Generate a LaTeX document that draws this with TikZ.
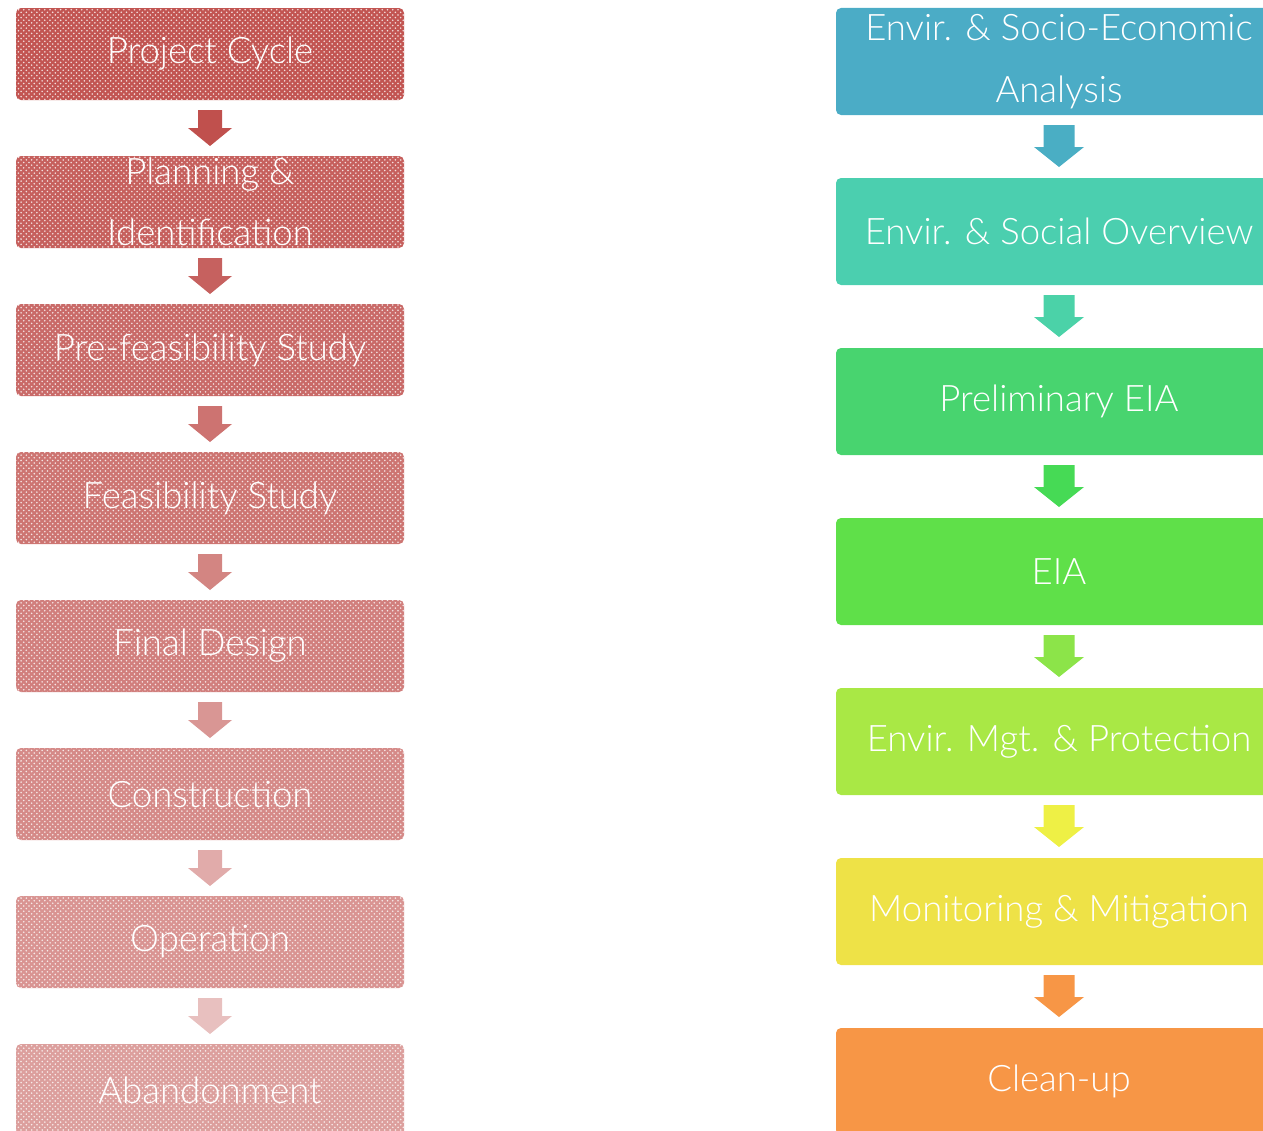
\documentclass[tikz,border=0pt]{standalone}
\usepackage{fontspec}
\setmainfont{Lato}[UprightFont=* Light]
\usepackage{xcolor}
\usetikzlibrary{calc,patterns,positioning}
\definecolor{redbase}{HTML}{C0504D}
\definecolor{rc1}{HTML}{4BACC6}
\definecolor{rc2}{HTML}{4BCFAF}
\definecolor{rc3}{HTML}{48D46F}
\definecolor{rc4}{HTML}{5FE049}
\definecolor{rc5}{HTML}{A9E845}
\definecolor{rc6}{HTML}{EEE247}
\definecolor{rc7}{HTML}{F79646}
\definecolor{ra1}{HTML}{4AAEC4}
\definecolor{ra2}{HTML}{4BD2A8}
\definecolor{ra3}{HTML}{46DA55}
\definecolor{ra4}{HTML}{8CE449}
\definecolor{ra5}{HTML}{EEF045}
\definecolor{ra6}{HTML}{F79646}
\tikzset{%
	lbox/.style = {rectangle, rounded corners=0.1cm, minimum width=7.76cm, minimum height=1.84cm, inner sep=0pt, outer sep=0pt},
	rbox/.style = {rectangle, rounded corners=0.1cm, minimum width=8.92cm, minimum height=2.14cm, inner sep=0pt, outer sep=0pt},
	dotted fill/.style = {preaction={fill=#1}, pattern=crosshatch dots, pattern color=white!80!#1},
	txt/.style  = {text=white, align=center, inner sep=0pt, font=\fontsize{20.8}{35}\selectfont},
}
\begin{document}
\begin{tikzpicture}
		\useasboundingbox (0,0) rectangle (25.26,-22.6);
		\clip (0,0) rectangle (25.26,-22.6);
		% project cycle
		\node[lbox, dotted fill=redbase!97!white] (l1) at (4.2,-1.08) {};
		\node[lbox, dotted fill=redbase!91!white, below=1.12cm of l1] (l2) {};
		\node[lbox, dotted fill=redbase!85!white, below=1.12cm of l2] (l3) {};
		\node[lbox, dotted fill=redbase!79!white, below=1.12cm of l3] (l4) {};
		\node[lbox, dotted fill=redbase!73!white, below=1.12cm of l4] (l5) {};
		\node[lbox, dotted fill=redbase!67!white, below=1.12cm of l5] (l6) {};
		\node[lbox, dotted fill=redbase!61!white, below=1.12cm of l6] (l7) {};
		\node[lbox, dotted fill=redbase!55!white, below=1.12cm of l7] (l8) {};
		\node[txt] (l1t) at (l1) {Project Cycle};
		\node[txt] (l2t) at (l2) {Planning \&\\Identification};
		\node[txt] (l3t) at (l3) {Pre-feasibility Study};
		\node[txt] (l4t) at (l4) {Feasibility Study};
		\node[txt] (l5t) at (l5) {Final Design};
		\node[txt] (l6t) at (l6) {Construction};
		\node[txt] (l7t) at (l7) {Operation};
		\node[txt] (l8t) at (l8) {Abandonment};
		\foreach \i/\j/\p in {1/2/100,2/3/90,3/4/80,4/5/70,5/6/60,6/7/48,7/8/36}
			\fill[redbase!\p!white] ($(l\i.south)+(-0.24,-0.2)$) -- ++(0.48,0) -- ++(0,-0.36) -- ++(0.2,0)
				-- ($(l\j.north)+(0,0.2)$) -- ($(l\i.south)+(-0.44,-0.56)$) -- ++(0.2,0) -- cycle;
		% environmental steps
		\node[rbox, fill=rc1] (r1) at (21.18,-1.23) {};
		\node[rbox, fill=rc2, below=1.26cm of r1] (r2) {};
		\node[rbox, fill=rc3, below=1.26cm of r2] (r3) {};
		\node[rbox, fill=rc4, below=1.26cm of r3] (r4) {};
		\node[rbox, fill=rc5, below=1.26cm of r4] (r5) {};
		\node[rbox, fill=rc6, below=1.26cm of r5] (r6) {};
		\node[rbox, fill=rc7, below=1.26cm of r6] (r7) {};
		\node[txt] (r1t) at (r1) {Envir. \& Socio-Economic\\Analysis};
		\node[txt] (r2t) at (r2) {Envir. \& Social Overview};
		\node[txt] (r3t) at (r3) {Preliminary EIA};
		\node[txt] (r4t) at (r4) {EIA};
		\node[txt] (r5t) at (r5) {Envir. Mgt. \& Protection};
		\node[txt] (r6t) at (r6) {Monitoring \& Mitigation};
		\node[txt] (r7t) at (r7) {Clean-up};
		\foreach \i/\j/\c in {1/2/ra1,2/3/ra2,3/4/ra3,4/5/ra4,5/6/ra5,6/7/ra6}
			\fill[\c] ($(r\i.south)+(-0.31,-0.2)$) -- ++(0.62,0) -- ++(0,-0.44) -- ++(0.19,0)
				-- ($(r\j.north)+(0,0.22)$) -- ($(r\i.south)+(-0.5,-0.64)$) -- ++(0.19,0) -- cycle;
\end{tikzpicture}
\end{document}
